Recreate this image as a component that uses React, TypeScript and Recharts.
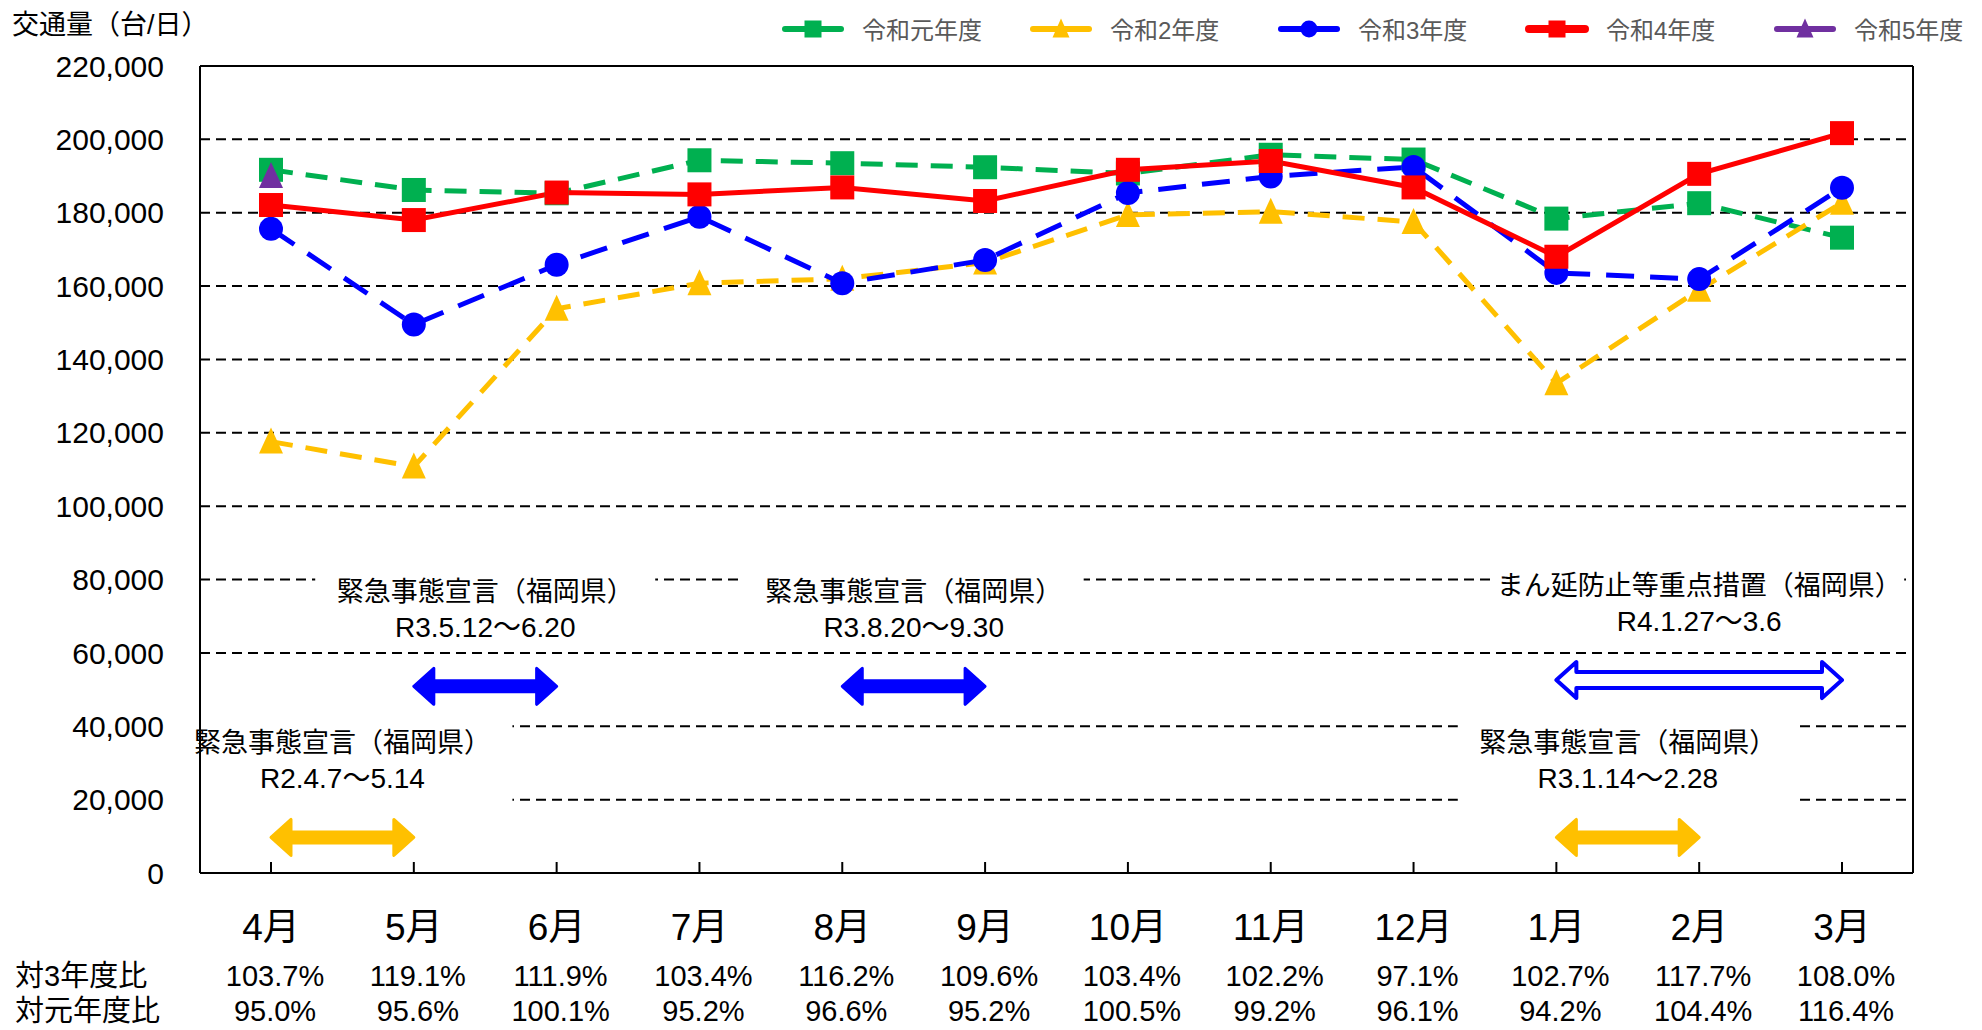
import React from 'react';
import {
  LineChart,
  Line,
  XAxis,
  YAxis,
  CartesianGrid,
  Legend,
  ReferenceLine,
} from 'recharts';

const FONT = '"Liberation Sans", Arial, "Noto Sans CJK JP", sans-serif';

const months = ['4月', '5月', '6月', '7月', '8月', '9月', '10月', '11月', '12月', '1月', '2月', '3月'];
const reiwa1 = [191700, 186200, 185300, 194300, 193500, 192400, 190700, 195800, 194500, 178400, 182600, 173200];
const reiwa2 = [117600, 110800, 153800, 160800, 162000, 166400, 179400, 180300, 177500, 133500, 159000, 182700];
const reiwa3 = [175600, 149500, 165800, 178900, 160800, 167100, 185400, 189900, 192500, 163600, 161900, 186800];
const reiwa4 = [182100, 178000, 185500, 185000, 186900, 183200, 191700, 194100, 186900, 168000, 190600, 201700];
const reiwa5 = [190000, null, null, null, null, null, null, null, null, null, null, null];

const vsReiwa3 = ['103.7%', '119.1%', '111.9%', '103.4%', '116.2%', '109.6%', '103.4%', '102.2%', '97.1%', '102.7%', '117.7%', '108.0%'];
const vsReiwa1 = ['95.0%', '95.6%', '100.1%', '95.2%', '96.6%', '95.2%', '100.5%', '99.2%', '96.1%', '94.2%', '104.4%', '116.4%'];

const yTicks = [0, 20000, 40000, 60000, 80000, 100000, 120000, 140000, 160000, 180000, 200000, 220000];

const periods = [
  { title: '緊急事態宣言（福岡県）', span: 'R2.4.7～5.14', from: '4月', to: '5月', level: 9700, color: '#FFC000', hollow: false },
  { title: '緊急事態宣言（福岡県）', span: 'R3.5.12～6.20', from: '5月', to: '6月', level: 50900, color: '#0000FF', hollow: false },
  { title: '緊急事態宣言（福岡県）', span: 'R3.8.20～9.30', from: '8月', to: '9月', level: 50900, color: '#0000FF', hollow: false },
  { title: 'まん延防止等重点措置（福岡県）', span: 'R4.1.27～3.6', from: '1月', to: '3月', level: 52600, color: '#0000FF', hollow: true },
  { title: '緊急事態宣言（福岡県）', span: 'R3.1.14～2.28', from: '1月', to: '2月', level: 9700, color: '#FFC000', hollow: false },
];

const series = [
  { key: 'r1', name: '令和元年度', color: '#00B050', dash: '22 13', width: 5, marker: 'square' },
  { key: 'r2', name: '令和2年度', color: '#FFC000', dash: '22 13', width: 5, marker: 'triangle' },
  { key: 'r3', name: '令和3年度', color: '#0000FF', dash: '28 16', width: 5, marker: 'circle' },
  { key: 'r4', name: '令和4年度', color: '#FF0000', dash: undefined, width: 5, marker: 'square' },
  { key: 'r5', name: '令和5年度', color: '#7030A0', dash: '22 13', width: 5, marker: 'triangle' },
];

const data = months.map((month, i) => ({
  month,
  r1: reiwa1[i],
  r2: reiwa2[i],
  r3: reiwa3[i],
  r4: reiwa4[i],
  r5: reiwa5[i],
}));

const markerShape = (shape: string, color: string, cx: number, cy: number, size: number, key?: any) => {
  const h = size / 2;
  if (shape === 'square') {
    return <rect key={key} x={cx - h} y={cy - h} width={size} height={size} fill={color} />;
  }
  if (shape === 'circle') {
    return <circle key={key} cx={cx} cy={cy} r={h} fill={color} />;
  }
  return (
    <polygon
      key={key}
      points={`${cx},${cy - h - 2} ${cx + h},${cy + h} ${cx - h},${cy + h}`}
      fill={color}
    />
  );
};

const makeDot = (shape: string, color: string) => (props: any) => {
  const { cx, cy, index, value } = props;
  if (cx == null || cy == null || value == null) return <g key={`e-${index}`} />;
  return markerShape(shape, color, cx, cy, 24, `d-${index}`);
};

const LegendContent = () => (
  <div style={{ display: 'flex', fontFamily: FONT, fontSize: 24, color: '#595959' }}>
    {series.map((s) => (
      <div key={s.key} style={{ display: 'flex', alignItems: 'center', width: 248 }}>
        <svg width={66} height={26}>
          <line x1={5} x2={61} y1={13} y2={13} stroke={s.color} strokeWidth={s.key === 'r4' ? 8 : 6} strokeLinecap="round" />
          {markerShape(s.marker, s.color, 33, 13, 17)}
        </svg>
        <span style={{ marginLeft: 16 }}>{s.name}</span>
      </div>
    ))}
  </div>
);

const MonthTick = (props: any) => {
  const { x, y, payload } = props;
  const i = months.indexOf(payload.value);
  return (
    <g fontFamily={FONT} fill="#000">
      <line x1={x} x2={x} y1={y} y2={y - 11} stroke="#000" strokeWidth={2} />
      <text x={x} y={y + 54} textAnchor="middle" dominantBaseline="central" fontSize={37}>
        {payload.value}
      </text>
      <text x={x + 4} y={y + 103} textAnchor="middle" dominantBaseline="central" fontSize={29}>
        {vsReiwa3[i]}
      </text>
      <text x={x + 4} y={y + 138} textAnchor="middle" dominantBaseline="central" fontSize={29}>
        {vsReiwa1[i]}
      </text>
    </g>
  );
};

const PeriodArrow = (p: any) => {
  const { x1, x2, y1, color, hollow, title, span } = p;
  const y = y1;
  const cx = (x1 + x2) / 2;
  const t = hollow ? 8 : 5.5;
  const h = 18;
  const L = 20;
  const line1 = y - 94;
  const line2 = y - 59;
  const pts = [
    [x1, y], [x1 + L, y - h], [x1 + L, y - t], [x2 - L, y - t], [x2 - L, y - h],
    [x2, y], [x2 - L, y + h], [x2 - L, y + t], [x1 + L, y + t], [x1 + L, y + h],
  ].map((q) => q.join(',')).join(' ');
  return (
    <g>
      {hollow ? (
        <rect x={cx - 205} y={line1 - 17} width={410} height={34} fill="#fff" />
      ) : (
        <rect x={cx - 170} y={line1 - 30} width={340} height={line2 - line1 + 53} fill="#fff" />
      )}
      <text x={cx} y={line1} textAnchor="middle" dominantBaseline="central" fontSize={27} fontFamily={FONT} fill="#000">
        {title}
      </text>
      <text x={cx} y={line2} textAnchor="middle" dominantBaseline="central" fontSize={28} fontFamily={FONT} fill="#000">
        {span}
      </text>
      <polygon
        points={pts}
        fill={hollow ? '#fff' : color}
        stroke={color}
        strokeWidth={hollow ? 4 : 3}
        strokeLinejoin="round"
      />
    </g>
  );
};

export default function App() {
  return (
    <div style={{ position: 'absolute', left: 0, top: 0, width: 1982, height: 1030, background: '#fff' }}>
      <LineChart width={1982} height={1030} data={data} margin={{ top: 66, right: 69, bottom: 0, left: 0 }}>
        <CartesianGrid horizontal vertical={false} stroke="#000" strokeWidth={2} strokeDasharray="10 6" />
        {/* solid frame: top and right edges of the plot */}
        <CartesianGrid
          stroke="#000"
          strokeWidth={2}
          horizontalCoordinatesGenerator={({ offset }: any) => [offset.top]}
          verticalCoordinatesGenerator={({ offset }: any) => [offset.left + offset.width]}
        />
        <XAxis
          dataKey="month"
          height={157}
          padding={{ left: 71, right: 71 }}
          axisLine={{ stroke: '#000', strokeWidth: 2 }}
          tickLine={false}
          tickSize={0}
          tickMargin={0}
          interval={0}
          tick={<MonthTick />}
          label={{
            content: () => (
              <g fontFamily={FONT} fontSize={29} fill="#000">
                <text x={15} y={976} dominantBaseline="central">対3年度比</text>
                <text x={15} y={1011} dominantBaseline="central">対元年度比</text>
              </g>
            ),
          }}
        />
        <YAxis
          width={200}
          domain={[0, 220000]}
          ticks={yTicks}
          interval={0}
          axisLine={{ stroke: '#000', strokeWidth: 2 }}
          tickLine={false}
          tickSize={0}
          tickMargin={36}
          tick={{ fontSize: 30, fill: '#000', fontFamily: FONT }}
          tickFormatter={(v: number) => v.toLocaleString('en-US')}
          label={{
            content: () => (
              <text x={12} y={25} dominantBaseline="central" fontSize={27} fontFamily={FONT} fill="#000">
                交通量（台/日）
              </text>
            ),
          }}
        />
        {periods.map((p, i) => (
          <ReferenceLine
            key={`p-${i}`}
            segment={[{ x: p.from, y: p.level }, { x: p.to, y: p.level }]}
            ifOverflow="visible"
            shape={(props: any) => <PeriodArrow {...props} {...p} />}
          />
        ))}
        <Legend
          layout="horizontal"
          verticalAlign="middle"
          align="center"
          content={<LegendContent />}
          wrapperStyle={{ top: 11, left: 780, width: 1240 }}
        />
        {series.map((s) => (
          <Line
            key={s.key}
            type="linear"
            dataKey={s.key}
            name={s.name}
            stroke={s.color}
            strokeWidth={s.width}
            strokeDasharray={s.dash}
            dot={makeDot(s.marker, s.color)}
            activeDot={false}
            connectNulls={false}
            isAnimationActive={false}
          />
        ))}
      </LineChart>
    </div>
  );
}
